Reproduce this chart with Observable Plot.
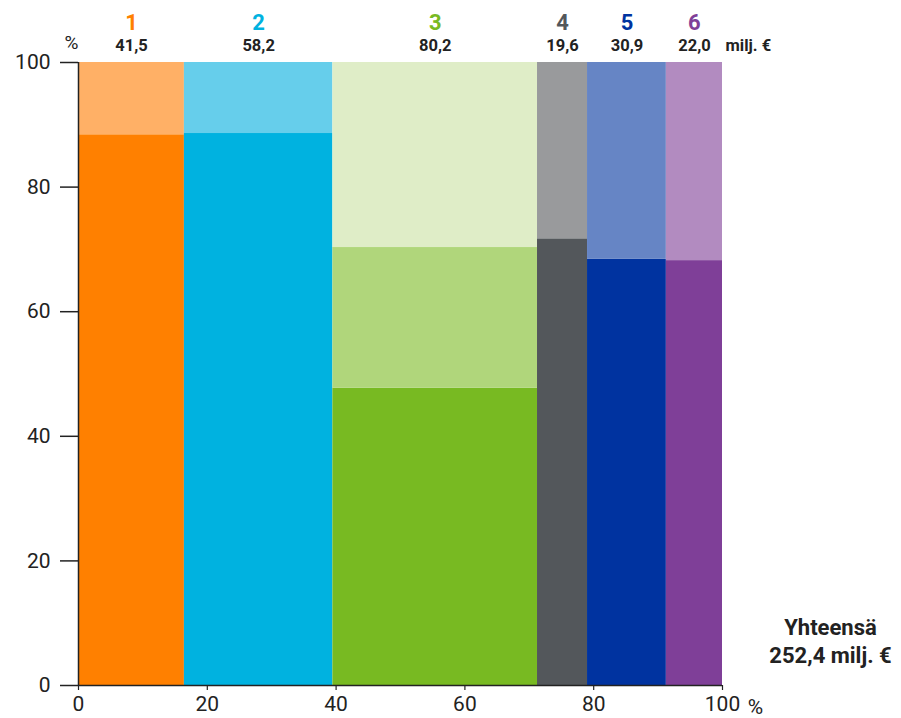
<!DOCTYPE html>
<html>
<head>
<meta charset="utf-8">
<script src="https://cdn.jsdelivr.net/npm/d3@7"></script>
<script src="https://cdn.jsdelivr.net/npm/@observablehq/plot@0.6"></script>
<style>
  html, body { margin: 0; padding: 0; background: #fff; }
  #chart svg { display: block; }
</style>
</head>
<body>
<div id="chart"></div>
<script>
// Data
const categories = ["1", "2", "3", "4", "5", "6"];
const totals = [41.5, 58.2, 80.2, 19.6, 30.9, 22.0];
const totalLabels = ["41,5", "58,2", "80,2", "19,6", "30,9", "22,0"];
const shares = [
  [88.4, 11.6],
  [88.6, 11.4],
  [47.7, 22.6, 29.7],
  [71.7, 28.3],
  [68.4, 31.6],
  [68.2, 31.8]
];
const segmentColors = [
  ["#FF8000", "#FFB066"],
  ["#00B2E0", "#66CEEB"],
  ["#78BA22", "#B0D67B", "#DFEDC7"],
  ["#53575B", "#999A9C"],
  ["#0033A0", "#6685C5"],
  ["#7F3F98", "#B28BC0"]
];
const labelColors = ["#FF8000", "#00B2E0", "#78BA22", "#53575B", "#0033A0", "#7F3F98"];
const unitLabel = "milj. €";
const totalText = ["Yhteensä", "252,4 milj. €"];
const xTicks = [0, 20, 40, 60, 80, 100];
const yTicks = [0, 20, 40, 60, 80, 100];

// Build tables
const grand = d3.sum(totals);
const cum = d3.cumsum(totals);
const columns = categories.map((c, i) => ({
  cat: c,
  label: totalLabels[i],
  color: labelColors[i],
  x1: (cum[i] - totals[i]) / grand * 100,
  x2: cum[i] / grand * 100
}));
columns.forEach(d => d.mid = (d.x1 + d.x2) / 2);
const rects = [];
columns.forEach((col, i) => {
  let acc = 0;
  shares[i].forEach((s, j) => {
    rects.push({x1: col.x1, x2: col.x2, y1: acc, y2: acc + s, fill: segmentColors[i][j]});
    acc += s;
  });
});

const dark = "#222222";
const chart = Plot.plot({
  width: 901,
  height: 718,
  marginLeft: 78,
  marginRight: 179,
  marginTop: 62,
  marginBottom: 33,
  style: {fontFamily: "Roboto, sans-serif", fontSize: "21px", color: dark, background: "#fff"},
  x: {domain: [0, 100], label: null},
  y: {domain: [0, 100], label: null},
  color: {type: "identity"},
  marks: [
    Plot.rect(rects, {x1: "x1", x2: "x2", y1: "y1", y2: "y2", fill: "fill"}),
    Plot.axisX(xTicks, {tickSize: 5, tickPadding: 6, fontSize: 21, stroke: dark, strokeWidth: 1.2, label: null}),
    Plot.axisY(yTicks, {tickSize: 18, tickPadding: 10, fontSize: 21, stroke: dark, strokeWidth: 1.5, label: null}),
    Plot.ruleX([0], {stroke: dark, strokeWidth: 1.5}),
    Plot.ruleY([0], {stroke: dark, strokeWidth: 1.5}),
    // category numbers
    Plot.text(columns, {x: "mid", text: "cat", fill: "color", frameAnchor: "top", lineAnchor: "middle", dy: -40, fontSize: 22, fontWeight: "bold"}),
    // column totals
    Plot.text(columns, {x: "mid", text: "label", fill: dark, frameAnchor: "top", lineAnchor: "middle", dy: -17, fontSize: 16.5, fontWeight: "bold"}),
    Plot.text([unitLabel], {x: 100, text: d => d, fill: dark, frameAnchor: "top", lineAnchor: "middle", dy: -17, dx: 3, textAnchor: "start", fontSize: 16.5, fontWeight: "bold"}),
    // % signs
    Plot.text(["%"], {x: 0, text: d => d, fill: dark, frameAnchor: "top", lineAnchor: "middle", dy: -20, dx: -7, fontSize: 19}),
    Plot.text(["%"], {x: 100, text: d => d, fill: dark, frameAnchor: "bottom", lineAnchor: "middle", dy: 22, dx: 33, fontSize: 21}),
    // total
    Plot.text([totalText[0]], {x: 100, text: d => d, fill: dark, frameAnchor: "bottom", lineAnchor: "middle", dy: -58, dx: 108, fontSize: 22, fontWeight: "bold"}),
    Plot.text([totalText[1]], {x: 100, text: d => d, fill: dark, frameAnchor: "bottom", lineAnchor: "middle", dy: -30, dx: 108, fontSize: 22, fontWeight: "bold"})
  ]
});
document.getElementById("chart").appendChild(chart);
</script>
</body>
</html>
